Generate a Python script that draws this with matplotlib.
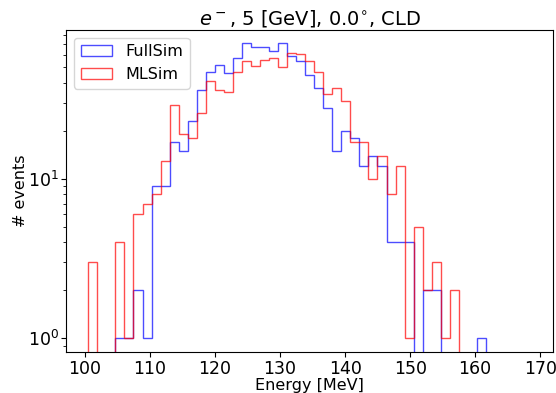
import numpy as np
import matplotlib
matplotlib.use("Agg")
import matplotlib.pyplot as plt

# Histogram binning (MeV)
e_lo, e_hi, n_edges = 100.5, 168.6, 50

fullsim_counts = [0, 0, 0, 1, 1, 2, 1, 9, 9, 17, 15, 23, 36, 47, 52, 46, 57, 71, 67, 67,
                  63, 71, 59, 55, 45, 37, 28, 15, 20, 18, 12, 14, 12, 4, 4, 4, 0, 2, 2, 0,
                  0, 0, 0, 1, 0, 0, 0, 0, 0]
mlsim_counts = [3, 0, 0, 4, 1, 6, 7, 8, 13, 29, 19, 18, 26, 41, 36, 35, 47, 55, 51, 56,
                57, 50, 62, 61, 55, 47, 34, 37, 31, 17, 17, 10, 14, 8, 12, 1, 5, 2, 3, 1,
                2, 0, 0, 0, 0, 0, 0, 0, 0]
labels = ["FullSim", "MLSim"]
colors = ["blue", "red"]

edges = np.linspace(e_lo, e_hi, n_edges)
centers = 0.5 * (edges[:-1] + edges[1:])

fig = plt.figure(figsize=(5.56, 3.93), dpi=100)
ax = fig.add_axes([0.119, 0.104, 0.876, 0.820])

for counts, lab, col in zip([fullsim_counts, mlsim_counts], labels, colors):
    ax.hist(centers, bins=edges, weights=counts, histtype="step", color=col,
            alpha=0.7, linewidth=1.0, label=lab, log=True)

ax.set_yscale("log")
ax.set_ylim(0.82, 86)
ax.set_xlabel("Energy [MeV]", fontsize=11.5, labelpad=0)
ax.set_ylabel("# events", fontsize=11.5, labelpad=0)
ax.set_title(r"$e^-$, 5 [GeV], 0.0$^{\circ}$, CLD", fontsize=14, pad=4)
ax.tick_params(labelsize=12.5)
ax.tick_params(axis="x", pad=2.5)
ax.tick_params(axis="y", pad=1.5)
ax.legend(loc="upper left", fontsize=11.5)

fig.savefig("out.png", dpi=100)
